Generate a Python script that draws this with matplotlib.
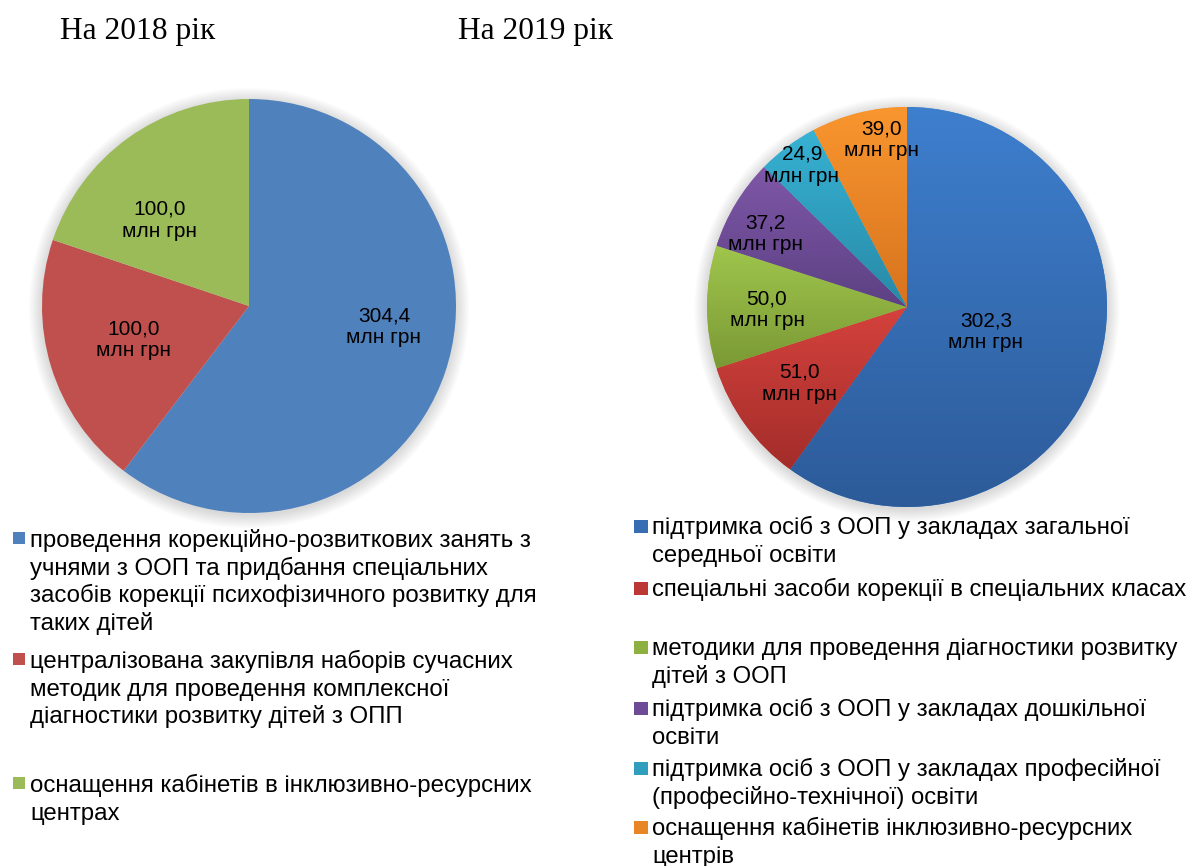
import numpy as np
import matplotlib
matplotlib.use("Agg")
import matplotlib.pyplot as plt
from matplotlib.colors import LinearSegmentedColormap, to_rgb
from matplotlib.patches import Circle, Rectangle

W, H = 1192, 866

# data
labels_2018 = [
    "проведення корекційно-розвиткових занять з\nучнями з ООП та придбання спеціальних\n"
    "засобів корекції психофізичного розвитку для\nтаких дітей",
    "централізована закупівля наборів сучасних\nметодик для проведення комплексної\n"
    "діагностики розвитку дітей з ОПП",
    "оснащення кабінетів в інклюзивно-ресурсних\nцентрах",
]
values_2018 = [304.4, 100.0, 100.0]
colors_2018 = ["#4F81BD", "#C0504D", "#9BBB59"]

labels_2019 = [
    "підтримка осіб з ООП у закладах загальної\nсередньої освіти",
    "спеціальні засоби корекції в спеціальних класах",
    "методики для проведення діагностики розвитку\nдітей з ООП",
    "підтримка осіб з ООП у закладах дошкільної\nосвіти",
    "підтримка осіб з ООП у закладах професійної\n(професійно-технічної) освіти",
    "оснащення кабінетів інклюзивно-ресурсних\nцентрів",
]
values_2019 = [302.3, 51.0, 50.0, 37.2, 24.9, 39.0]
# (top, bottom) gradient colours, office style
grad_2019 = [("#3E7FCE", "#2D5B99"), ("#D5423D", "#A32D2A"), ("#A0C64C", "#7A9935"),
             ("#7F57A8", "#5C4183"), ("#37B2D4", "#2889A6"), ("#F9962F", "#D7731E")]

# layout (pixels, from top)
pie_2018 = dict(cx=249, cy=306, r=207)
pie_2019 = dict(cx=907, cy=307, r=200)
lab_pos_2018 = [(0.652, -0.10), (-0.556, -0.164), (-0.43, 0.415)]
lab_pos_2019 = [(0.395, -0.125), (-0.54, -0.38), (-0.70, -0.015),
                (-0.71, 0.365), (-0.525, 0.71), (-0.125, 0.835)]
leg_y_2018 = [547, 668, 792]
leg_y_2019 = [534, 596, 655, 716, 776, 835]
LINE = 27.6

SANS = "Liberation Sans"
SERIF = "Liberation Serif"


def fmt(v):
    return f"{v:.1f}".replace(".", ",") + "\nмлн грн"


def pie_axes(fig, cx, cy, r, m=1.12):
    ax = fig.add_axes([(cx - r * m) / W, (H - cy - r * m) / H, 2 * r * m / W, 2 * r * m / H])
    ax.set_axis_off()
    return ax, m


def shadow(ax):
    for i in range(10):
        ax.add_patch(Circle((0, -0.01), 1.0 + 0.007 * i, color="#808080", alpha=0.03, lw=0, zorder=0))


def mix(a, b):
    return tuple((np.array(to_rgb(a)) + np.array(to_rgb(b))) / 2)


fig = plt.figure(figsize=(W / 100, H / 100), dpi=100)

# 2018 pie
ax1, m = pie_axes(fig, **pie_2018)
shadow(ax1)
w1, _ = ax1.pie(values_2018, colors=colors_2018, startangle=90, counterclock=False,
                radius=1, wedgeprops=dict(linewidth=0))
for w in w1:
    w.set_zorder(2)
for v, (x, y) in zip(values_2018, lab_pos_2018):
    ax1.text(x, y, fmt(v), ha="center", va="center", fontsize=15, family=SANS, zorder=5)
ax1.set_xlim(-m, m); ax1.set_ylim(-m, m)

# 2019 pie with vertical gradient in each slice
ax2, m = pie_axes(fig, **pie_2019)
shadow(ax2)
w2, _ = ax2.pie(values_2019, colors=[c[0] for c in grad_2019], startangle=90,
                counterclock=False, radius=1, wedgeprops=dict(linewidth=0))
grad = np.linspace(0, 1, 256).reshape(-1, 1)
for w, (ctop, cbot) in zip(w2, grad_2019):
    w.set_zorder(2)
    vx = w.get_path().vertices
    cmap = LinearSegmentedColormap.from_list("g", [ctop, cbot])
    im = ax2.imshow(grad, cmap=cmap, extent=(vx[:, 0].min(), vx[:, 0].max(),
                                             vx[:, 1].min(), vx[:, 1].max()),
                    origin="upper", aspect="auto", zorder=3, interpolation="bilinear")
    im.set_clip_path(w)
for v, (x, y) in zip(values_2019, lab_pos_2019):
    ax2.text(x, y, fmt(v), ha="center", va="center", fontsize=15, family=SANS, zorder=5)
ax2.set_xlim(-m, m); ax2.set_ylim(-m, m)
ax2.set_aspect("equal")

# overlay for titles and legends
ov = fig.add_axes([0, 0, 1, 1], zorder=10)
ov.set_xlim(0, W); ov.set_ylim(H, 0)
ov.set_axis_off()
ov.patch.set_alpha(0)

ov.text(60, 39, "На 2018 рік", family=SERIF, fontsize=22.7, va="baseline")
ov.text(458, 39, "На 2019 рік", family=SERIF, fontsize=22.7, va="baseline")

for lab, c, y in zip(labels_2018, colors_2018, leg_y_2018):
    ov.add_patch(Rectangle((13, y - 15), 12, 12, color=c, lw=0))
    for k, line in enumerate(lab.split("\n")):
        ov.text(30, y + k * LINE, line, family=SANS, fontsize=17.3, va="baseline")

for lab, (ct, cb), y in zip(labels_2019, grad_2019, leg_y_2019):
    ov.add_patch(Rectangle((634, y - 14), 14, 13, color=mix(ct, cb), lw=0))
    for k, line in enumerate(lab.split("\n")):
        ov.text(652, y + k * LINE, line, family=SANS, fontsize=17.2, va="baseline")

fig.savefig("out.png", dpi=100)
